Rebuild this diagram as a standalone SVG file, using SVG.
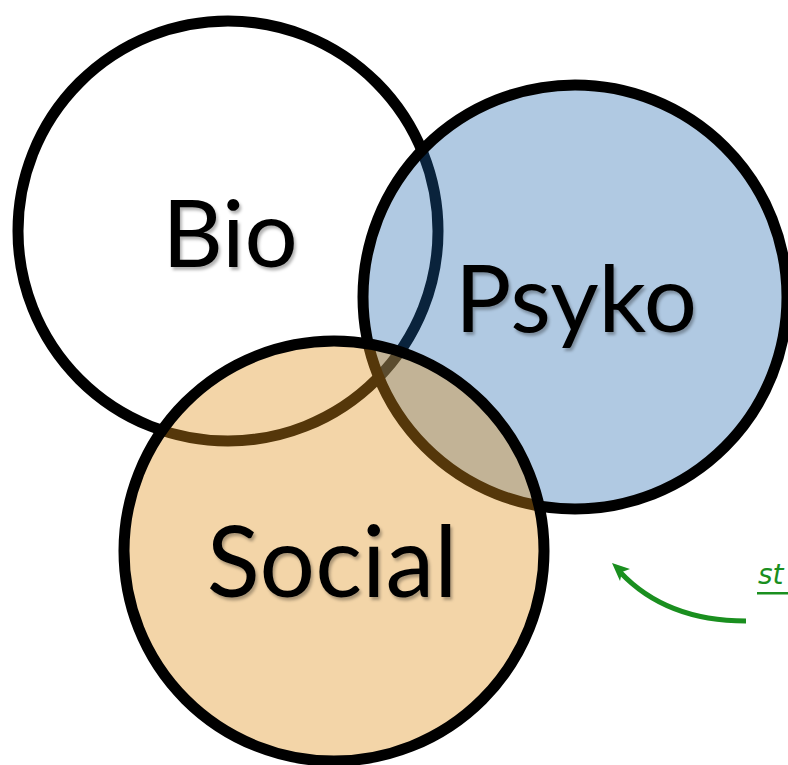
<svg xmlns="http://www.w3.org/2000/svg" width="788" height="765" viewBox="0 0 788 765">
<defs>
<style>
.c{stroke:#000;stroke-width:11}
.lbl{font-family:Lato,"Open Sans",sans-serif;fill:#000;text-anchor:middle;filter:url(#sh)}
.g{fill:#1a8f1f}
</style>
<filter id="sh" x="-10%" y="-10%" width="130%" height="130%">
<feDropShadow dx="2" dy="3" stdDeviation="1.5" flood-color="#000" flood-opacity="0.3"/>
</filter>
</defs>
<rect width="788" height="765" fill="#fff"/>
<g id="bio">
<circle class="c" cx="228" cy="231" r="210" fill="#fff"/>
</g>
<g id="psyko">
<circle class="c" cx="575" cy="297" r="212" fill="#1d64ab" fill-opacity="0.35"/>
</g>
<g id="social">
<circle class="c" cx="334" cy="551" r="210" fill="#e0911a" fill-opacity="0.38"/>
</g>
<g id="labels">
<text class="lbl" x="230" y="267" font-size="94">Bio</text>
<text class="lbl" x="576" y="332" font-size="94">Psyko</text>
<text class="lbl" x="332" y="597" font-size="98">Social</text>
</g>
<g id="connectors">
<path d="M746,621 Q666,621 620,572" fill="none" stroke="#1a8f1f" stroke-width="5"/>
<path d="M612,563 L630,569 L622,572 L620,581 Z" class="g"/>
</g>
<g id="note">
<text x="758" y="584" font-family="'DejaVu Sans',sans-serif" font-style="italic" font-size="28" class="g">st</text>
<rect x="757" y="592" width="31" height="2.5" class="g"/>
</g>
</svg>
